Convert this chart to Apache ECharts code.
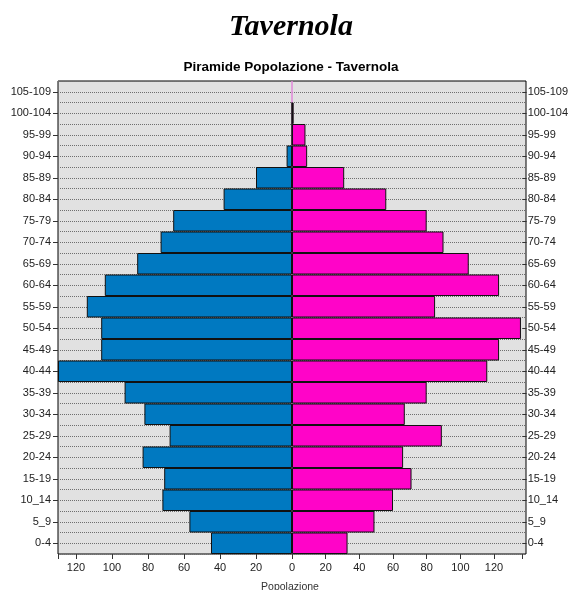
<!DOCTYPE html>
<html>
<head>
<meta charset="utf-8">
<title>Tavernola</title>
<script src="https://cdn.jsdelivr.net/npm/echarts@6/dist/echarts.min.js"></script>
<style>
    html, body { margin: 0; padding: 0; background: #fff; }
    #pyramid-chart { width: 571px; height: 590px; }
</style>
</head>
<body>
<div id="pyramid-chart"></div>
<script>
// 年龄段（从下往上）
const ageGroups = ['0-4', '5_9', '10_14', '15-19', '20-24', '25-29', '30-34', '35-39', '40-44', '45-49',
    '50-54', '55-59', '60-64', '65-69', '70-74', '75-79', '80-84', '85-89', '90-94', '95-99', '100-104', '105-109'];
// 男性人数（左侧）
const maschi = [45, 57, 72, 71, 83, 68, 82, 93, 130, 106, 106, 114, 104, 86, 73, 66, 38, 20, 3, 0, 0, null];
// 女性人数（右侧）
const femmine = [33, 49, 60, 71, 66, 89, 67, 80, 116, 123, 136, 85, 123, 105, 90, 80, 56, 31, 9, 8, 1, null];
// 两侧坐标轴范围（左右刻度不同）
const maxMaschi = 130;
const maxFemmine = 137;
const tickStep = 20;

document.addEventListener('DOMContentLoaded', () => {
    const initChart = () => {
        const chartContainer = document.getElementById('pyramid-chart');
        if (!chartContainer) return;

        const myChart = echarts.init(chartContainer);
        const sansFont = '"Liberation Sans", Arial, sans-serif';
        const labelStyle = { color: '#222', fontSize: 11, fontFamily: sansFont };
        const gridLine = { color: '#6e6e6e', type: 'dotted' };

        // 隐藏非整刻度的标签（例如最大值130）
        const tickFormatter = (v) => (v % tickStep === 0 ? String(v) : '');

        const option = {
            backgroundColor: '#fff',
            animation: false,
            title: [
                {
                    text: 'Tavernola',
                    left: 286,
                    top: 7,
                    textAlign: 'center',
                    textStyle: {
                        fontFamily: '"Liberation Serif", "Times New Roman", serif',
                        fontStyle: 'italic',
                        fontWeight: 'bold',
                        fontSize: 30,
                        color: '#000'
                    }
                },
                {
                    text: 'Piramide Popolazione - Tavernola',
                    left: 286,
                    top: 55,
                    textAlign: 'center',
                    textStyle: { fontFamily: sansFont, fontWeight: 'bold', fontSize: 13.5, color: '#000' }
                },
                {
                    text: 'Popolazione',
                    left: 285,
                    top: 577,
                    textAlign: 'center',
                    textStyle: { fontFamily: sansFont, fontWeight: 'normal', fontSize: 10.5, color: '#333' }
                }
            ],
            // 0: 背景框；1: 男性；2: 女性
            grid: [
                { left: 58, right: 45, top: 81, bottom: 36, show: true, backgroundColor: '#e1e1e1', borderColor: '#000', borderWidth: 1 },
                { left: 58, right: 279, top: 81, bottom: 36 },
                { left: 292, right: 45, top: 81, bottom: 36 }
            ],
            xAxis: [
                { gridIndex: 0, type: 'value', show: false, min: 0, max: 1 },
                {
                    gridIndex: 1, type: 'value', inverse: true,
                    min: 0, max: maxMaschi, interval: tickStep,
                    axisLine: { show: false },
                    axisTick: { show: true, length: 5, lineStyle: { color: '#333' } },
                    axisLabel: Object.assign({ margin: 8, showMinLabel: false, formatter: tickFormatter }, labelStyle),
                    splitLine: { show: false }
                },
                {
                    gridIndex: 2, type: 'value',
                    min: 0, max: maxFemmine, interval: tickStep,
                    axisLine: { show: false },
                    axisTick: { show: true, length: 5, lineStyle: { color: '#333' } },
                    axisLabel: Object.assign({ margin: 8, formatter: tickFormatter }, labelStyle),
                    splitLine: { show: false }
                }
            ],
            yAxis: [
                {
                    // 虚线网格：刻度线位于中心，分隔线位于边界
                    gridIndex: 0, type: 'category', data: ageGroups,
                    axisLine: { show: false },
                    axisLabel: { show: false },
                    axisTick: { show: true, inside: true, alignWithLabel: true, length: 468, lineStyle: gridLine },
                    splitLine: { show: true, lineStyle: gridLine }
                },
                {
                    gridIndex: 1, type: 'category', data: ageGroups, position: 'left',
                    axisLine: { show: false, onZero: false },
                    axisTick: { show: true, alignWithLabel: true, length: 5, lineStyle: { color: '#333' } },
                    axisLabel: Object.assign({ margin: 7, interval: 0 }, labelStyle),
                    splitLine: { show: false }
                },
                {
                    gridIndex: 2, type: 'category', data: ageGroups, position: 'right',
                    axisLine: { show: false, onZero: false },
                    axisTick: { show: true, alignWithLabel: true, length: 4, lineStyle: { color: '#333' } },
                    axisLabel: Object.assign({ margin: 5, interval: 0 }, labelStyle),
                    splitLine: { show: false }
                }
            ],
            series: [
                {
                    name: 'Maschi',
                    type: 'bar',
                    xAxisIndex: 1,
                    yAxisIndex: 1,
                    data: maschi,
                    barCategoryGap: '0%',
                    itemStyle: { color: '#0079c1', borderColor: '#111', borderWidth: 1 },
                    z: 3
                },
                {
                    name: 'Femmine',
                    type: 'bar',
                    xAxisIndex: 2,
                    yAxisIndex: 2,
                    data: femmine,
                    barCategoryGap: '0%',
                    itemStyle: { color: '#ff04c8', borderColor: '#111', borderWidth: 1 },
                    z: 3
                },
                {
                    // 中轴粉色线（被柱条覆盖）
                    type: 'line',
                    xAxisIndex: 2,
                    yAxisIndex: 2,
                    data: [],
                    z: 1,
                    markLine: {
                        z: 1,
                        silent: true,
                        symbol: 'none',
                        label: { show: false },
                        lineStyle: { color: '#e088d8', width: 1.5, type: 'solid' },
                        data: [{ xAxis: 0 }]
                    }
                }
            ]
        };

        myChart.setOption(option);
    };

    initChart();
});
</script>
</body>
</html>
